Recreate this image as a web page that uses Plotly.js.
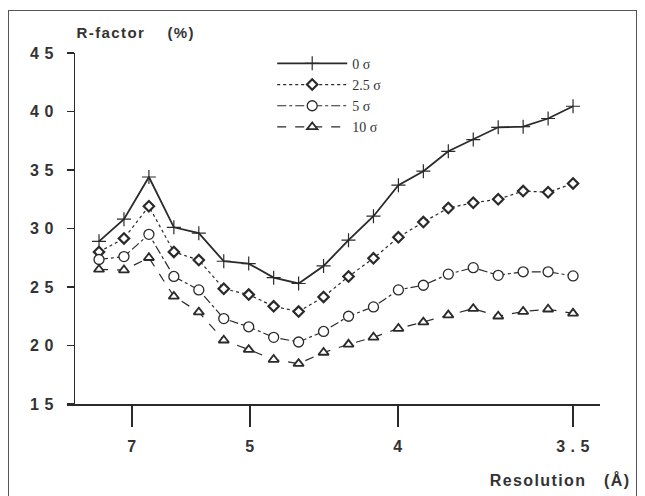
<!DOCTYPE html>
<html>
<head>
<meta charset="utf-8">
<script src="https://cdn.plot.ly/plotly-3.0.1.min.js"></script>
<style>
  html, body { margin: 0; padding: 0; background: #ffffff; }
  #chart { width: 645px; height: 496px; position: relative; }
  #frame { position: absolute; left: 8px; top: 10px; width: 627px; height: 490px; border: 1px solid #555; pointer-events: none; }
  #chart .annotation-text { letter-spacing: 1.4px; }
  #chart .xtick text, #chart .ytick text { letter-spacing: 0.5px; }
</style>
</head>
<body>
<div id="chart"></div>
<div id="frame"></div>
<script>
// Resolution shells (shell index along x)
const shellIndex = [1,2,3,4,5,6,7,8,9,10,11,12,13,14,15,16,17,18,19,20];
const seriesNames = ['0\u00a0σ', '2.5\u00a0σ', '5\u00a0σ', '10\u00a0σ'];
const rSigma0   = [28.9,30.8,34.4,30.1,29.6,27.2,27.0,25.8,25.3,26.8,29.0,31.05,33.7,34.9,36.6,37.6,38.65,38.7,39.4,40.45];
const rSigma2_5 = [28.0,29.15,31.9,28.0,27.3,24.85,24.35,23.35,22.9,24.15,25.9,27.45,29.25,30.55,31.75,32.2,32.5,33.2,33.1,33.85];
const rSigma5   = [27.35,27.6,29.5,25.9,24.75,22.3,21.6,20.7,20.3,21.2,22.5,23.3,24.75,25.15,26.1,26.65,26.0,26.3,26.3,25.95];
const rSigma10  = [26.5,26.45,27.5,24.2,22.85,20.45,19.65,18.8,18.45,19.4,20.1,20.7,21.45,22.0,22.6,23.15,22.5,22.9,23.1,22.75];
// x-axis resolution ticks (Å) and their shell positions
const resTickPos = [2.32, 7.05, 12.98, 20];
const resTickText = ['7', '5', '4', '3 . 5'];
const yTickVals = [15,20,25,30,35,40,45];
const yTickText = ['1 5','2 0','2 5','3 0','3 5','4 0','4 5'];

const ink = '#2a2a2a';
const traces = [
  {y: rSigma0, name: seriesNames[0], line: {color: ink, width: 1.8, dash: 'solid'},
   marker: {symbol: 'cross-thin-open', size: 10, color: ink, line: {color: ink, width: 1.2}}},
  {y: rSigma2_5, name: seriesNames[1], line: {color: ink, width: 1.2, dash: 'dot'},
   marker: {symbol: 'diamond', size: 8, color: '#ffffff', line: {color: ink, width: 2.2}}},
  {y: rSigma5, name: seriesNames[2], line: {color: ink, width: 1.2, dash: 'dashdot'},
   marker: {symbol: 'circle', size: 10, color: '#ffffff', line: {color: ink, width: 1.3}}},
  {y: rSigma10, name: seriesNames[3], line: {color: ink, width: 1.2, dash: 'dash'},
   marker: {symbol: 'triangle-up', size: 9, color: '#ffffff', line: {color: ink, width: 1.8}}}
].map(t => Object.assign({x: shellIndex, type: 'scatter', mode: 'lines+markers'}, t));

const tickFont = {family: 'Liberation Sans, Arial, sans-serif', size: 16, color: '#333', weight: 'bold'};

const layout = {
  width: 645, height: 496,
  margin: {l: 67, r: 45, t: 53, b: 92},
  paper_bgcolor: '#ffffff', plot_bgcolor: '#ffffff',
  showlegend: true,
  legend: {
    xref: 'paper', yref: 'paper',
    x: 0.385, y: 1.015, xanchor: 'left', yanchor: 'top',
    bgcolor: 'rgba(0,0,0,0)', borderwidth: 0,
    font: {family: 'Liberation Serif, Times New Roman, serif', size: 14, color: '#333'},
    tracegroupgap: 0, itemwidth: 70
  },
  xaxis: {
    range: [-0.283, 21.08],
    showgrid: false, zeroline: false,
    showline: true, linecolor: ink, linewidth: 1.5,
    ticks: 'outside', ticklen: 21, tickwidth: 1.5, tickcolor: ink,
    tickmode: 'array', tickvals: resTickPos, ticktext: resTickText,
    tickfont: tickFont, ticklabelstandoff: 6
  },
  yaxis: {
    range: [15, 45],
    anchor: 'free', position: 0.0131,
    showgrid: false, zeroline: false,
    showline: true, linecolor: ink, linewidth: 1.5,
    ticks: 'outside', ticklen: 7, tickwidth: 1.5, tickcolor: ink,
    tickmode: 'array', tickvals: yTickVals, ticktext: yTickText,
    tickfont: tickFont, ticklabelstandoff: 10
  },
  annotations: [
    {xref: 'paper', yref: 'paper', x: 0.034, y: 1.057, xanchor: 'left', yanchor: 'middle', showarrow: false,
     text: 'R-factor\u00a0\u00a0\u00a0\u00a0(%)', font: {family: 'Liberation Sans, Arial, sans-serif', size: 15, color: '#333', weight: 'bold'}},
    {xref: 'paper', yref: 'paper', x: 1.04, y: -0.2165, xanchor: 'right', yanchor: 'middle', showarrow: false,
     text: 'Resolution\u00a0\u00a0\u00a0(Å)', font: {family: 'Liberation Sans, Arial, sans-serif', size: 16, color: '#333', weight: 'bold'}}
  ]
};

Plotly.newPlot('chart', traces, layout, {displayModeBar: false, staticPlot: true});
</script>
</body>
</html>
